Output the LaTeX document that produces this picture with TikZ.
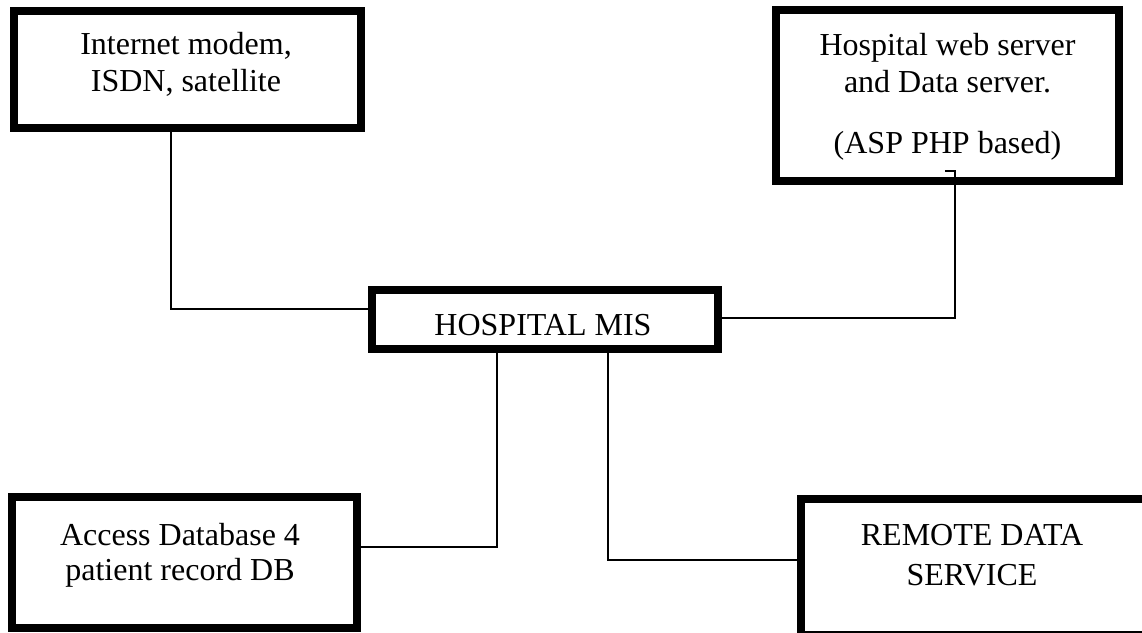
\documentclass[tikz,border=0pt]{standalone}
\usepackage{fontspec}
\setmainfont{Liberation Serif}
\usetikzlibrary{calc}

\tikzset{
  box/.style={draw=black, line width=6pt, rectangle, inner sep=0pt, outer sep=0pt},
  lbl/.style={anchor=base, inner sep=0pt, font=\fontsize{24pt}{28pt}\selectfont},
  wire/.style={draw=black, line width=0.8pt}
}

\begin{document}
\begin{tikzpicture}[x=0.75pt, y=-0.75pt]
  \useasboundingbox (0,0) rectangle (1142,632);
  \clip (0,0) rectangle (1142,632);

  % boxes
  \node[box, minimum width=260.25pt, minimum height=87.75pt]  (net) at (187.5,69.5) {};
  \node[box, minimum width=257.25pt, minimum height=128.25pt] (web) at (947.5,95.5) {};
  \node[box, minimum width=259.5pt,  minimum height=44.25pt]  (mis) at (545,319.5) {};
  \node[box, minimum width=258.75pt, minimum height=98.25pt]  (acc) at (184.5,562.5) {};
  \node[box, minimum width=264.75pt, minimum height=102pt]    (rds) at (977.5,567) {};

  % labels
  \node[lbl] (netT) at (186,54) {\begin{tabular}[t]{@{}c@{}}Internet modem,\\ISDN, satellite\end{tabular}};
  \node[lbl] (webT) at (947.5,55) {\begin{tabular}[t]{@{}c@{}}Hospital web server\\and Data server.\\[18pt](ASP PHP based)\end{tabular}};
  \node[lbl] (misT) at (543,335) {HOSPITAL MIS};
  \node[lbl] (accT) at (180,545) {\begin{tabular}[t]{@{}c@{}}Access Database 4\\[-1.75pt]patient record DB\end{tabular}};
  \node[lbl] (rdsT) at (972,545) {\begin{tabular}[t]{@{}c@{}}REMOTE DATA\\[2pt]SERVICE\end{tabular}};

  % connectors
  \draw[wire] ($(net.south)+(-16.5,0)$) |- ($(mis.west)+(0,-10.5)$);
  \draw[wire] ($(web.south)+(-2.5,-10)$) -- ++(10,0) |- ($(mis.east)+(0,-1.5)$);
  \draw[wire] ($(mis.south)+(-48,0)$) |- ($(acc.east)+(0,-15.5)$);
  \draw[wire] ($(mis.south)+(63,0)$) |- ($(rds.west)+(0,-7)$);
\end{tikzpicture}
\end{document}
